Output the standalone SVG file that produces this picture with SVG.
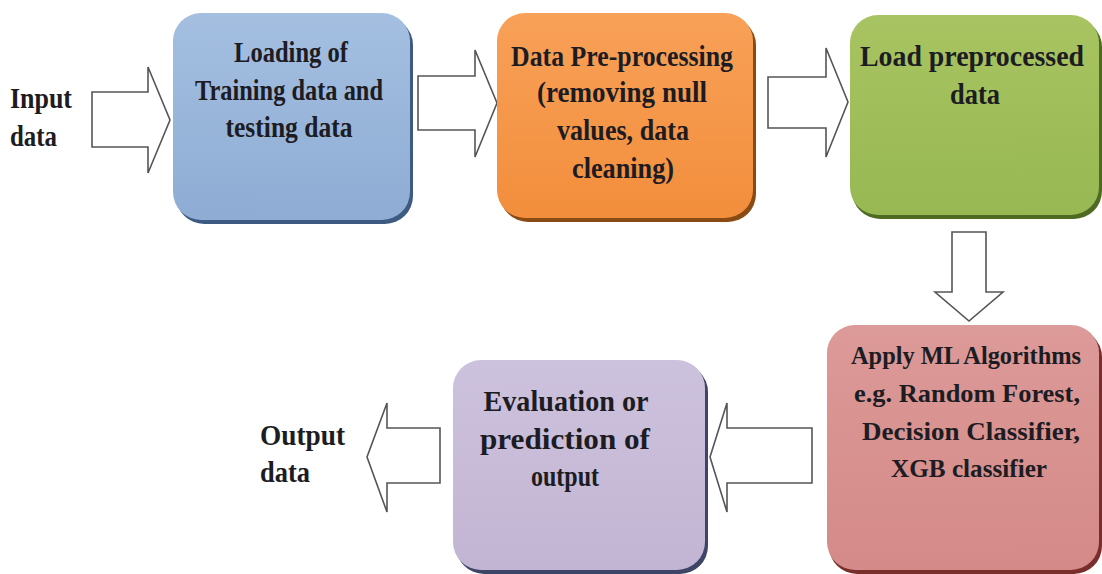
<svg xmlns="http://www.w3.org/2000/svg" width="1102" height="574" viewBox="0 0 1102 574">
<defs>
<linearGradient id="gBlue" x1="0" y1="0" x2="0" y2="1"><stop offset="0" stop-color="#a4bfe0"/><stop offset="1" stop-color="#8eacd4"/></linearGradient>
<linearGradient id="gOrange" x1="0" y1="0" x2="0" y2="1"><stop offset="0" stop-color="#f8a158"/><stop offset="1" stop-color="#f28e3c"/></linearGradient>
<linearGradient id="gGreen" x1="0" y1="0" x2="0" y2="1"><stop offset="0" stop-color="#a8c462"/><stop offset="1" stop-color="#97b852"/></linearGradient>
<linearGradient id="gRed" x1="0" y1="0" x2="0" y2="1"><stop offset="0" stop-color="#dc9a98"/><stop offset="1" stop-color="#d48a88"/></linearGradient>
<linearGradient id="gPurple" x1="0" y1="0" x2="0" y2="1"><stop offset="0" stop-color="#cdc2dd"/><stop offset="1" stop-color="#c2b5d3"/></linearGradient>
</defs>
<style>
text{font-family:'Liberation Serif','DejaVu Serif',serif;font-weight:bold;font-size:29px;fill:#1c1c22}
.c{text-anchor:middle}
.s{font-size:26px}
.arrow{fill:#ffffff;stroke:#555555;stroke-width:1.6;stroke-linejoin:miter}
</style>
<rect width="1102" height="574" fill="#ffffff"/>

<g id="connectors">
<path class="arrow" d="M92,92 H148 V67 L170,120 L148,173 V147 H92 Z"/>
<path class="arrow" d="M418,76 H475 V50 L497,103 L475,157 V130 H418 Z"/>
<path class="arrow" d="M768,77 H826 V48 L848,102 L826,157 V128 H768 Z"/>
<path class="arrow" d="M952,232 H986 V292 H1003 L969,321 L935,292 H952 Z"/>
<path class="arrow" d="M812,428 H727 V403 L710,457 L727,512 V483 H812 Z"/>
<path class="arrow" d="M440,428 H387 V403 L367,457 L387,512 V483 H440 Z"/>
</g>

<g id="input-label" font-family="Liberation Serif, DejaVu Serif, serif">
<text x="10" y="108" textLength="62" lengthAdjust="spacingAndGlyphs">Input</text>
<text x="10" y="146" textLength="47" lengthAdjust="spacingAndGlyphs">data</text>
</g>

<g id="node-loading" font-family="Liberation Serif, DejaVu Serif, serif">
<rect x="176" y="17" width="237" height="207" rx="28" fill="#3d5a80"/>
<rect x="173" y="13" width="237" height="207" rx="28" fill="url(#gBlue)"/>
<text class="c" x="291" y="62" textLength="114" lengthAdjust="spacingAndGlyphs" fill="#17202e">Loading of</text>
<text class="c" x="289" y="100" textLength="188" lengthAdjust="spacingAndGlyphs" fill="#17202e">Training data and</text>
<text class="c" x="289" y="137" textLength="127" lengthAdjust="spacingAndGlyphs" fill="#17202e">testing data</text>
</g>

<g id="node-preprocessing" font-family="Liberation Serif, DejaVu Serif, serif">
<rect x="500" y="17" width="256" height="205" rx="28" fill="#8a4a14"/>
<rect x="497" y="13" width="256" height="205" rx="28" fill="url(#gOrange)"/>
<text class="c" x="622" y="66" textLength="222" lengthAdjust="spacingAndGlyphs" fill="#2a1306">Data Pre-processing</text>
<text class="c" x="622" y="102" textLength="170" lengthAdjust="spacingAndGlyphs" fill="#2a1306">(removing null</text>
<text class="c" x="623" y="140" textLength="132" lengthAdjust="spacingAndGlyphs" fill="#2a1306">values, data</text>
<text class="c" x="623" y="178" textLength="102" lengthAdjust="spacingAndGlyphs" fill="#2a1306">cleaning)</text>
</g>

<g id="node-load-preprocessed" font-family="Liberation Serif, DejaVu Serif, serif">
<rect x="852" y="19" width="250" height="200" rx="28" fill="#4f6a22"/>
<rect x="850" y="15" width="249" height="200" rx="28" fill="url(#gGreen)"/>
<text class="c" x="972" y="66" textLength="224" lengthAdjust="spacingAndGlyphs" fill="#141a0a">Load preprocessed</text>
<text class="c" x="975" y="104" textLength="50" lengthAdjust="spacingAndGlyphs" fill="#141a0a">data</text>
</g>

<g id="node-ml" font-family="Liberation Serif, DejaVu Serif, serif">
<rect x="829" y="329" width="273" height="245" rx="28" fill="#7a2e2c"/>
<rect x="827" y="325" width="272" height="245" rx="28" fill="url(#gRed)"/>
<text class="c s" x="966" y="364" textLength="230" lengthAdjust="spacingAndGlyphs" fill="#2b0a0a">Apply ML Algorithms</text>
<text class="c s" x="967" y="402" textLength="226" lengthAdjust="spacingAndGlyphs" fill="#2b0a0a">e.g. Random Forest,</text>
<text class="c s" x="971" y="440" textLength="218" lengthAdjust="spacingAndGlyphs" fill="#2b0a0a">Decision Classifier,</text>
<text class="c s" x="969" y="477" textLength="156" lengthAdjust="spacingAndGlyphs" fill="#2b0a0a">XGB classifier</text>
</g>

<g id="node-evaluation" font-family="Liberation Serif, DejaVu Serif, serif">
<rect x="456" y="364" width="252" height="210" rx="28" fill="#3e4566"/>
<rect x="453" y="360" width="252" height="210" rx="28" fill="url(#gPurple)"/>
<text class="c" x="566" y="411" textLength="165" lengthAdjust="spacingAndGlyphs" fill="#1d1a26">Evaluation or</text>
<text class="c" x="565" y="449" textLength="170" lengthAdjust="spacingAndGlyphs" fill="#1d1a26">prediction of</text>
<text class="c" x="565" y="486" textLength="68" lengthAdjust="spacingAndGlyphs" fill="#1d1a26">output</text>
</g>

<g id="output-label" font-family="Liberation Serif, DejaVu Serif, serif">
<text x="260" y="445" textLength="85" lengthAdjust="spacingAndGlyphs">Output</text>
<text x="260" y="482" textLength="50" lengthAdjust="spacingAndGlyphs">data</text>
</g>
</svg>
